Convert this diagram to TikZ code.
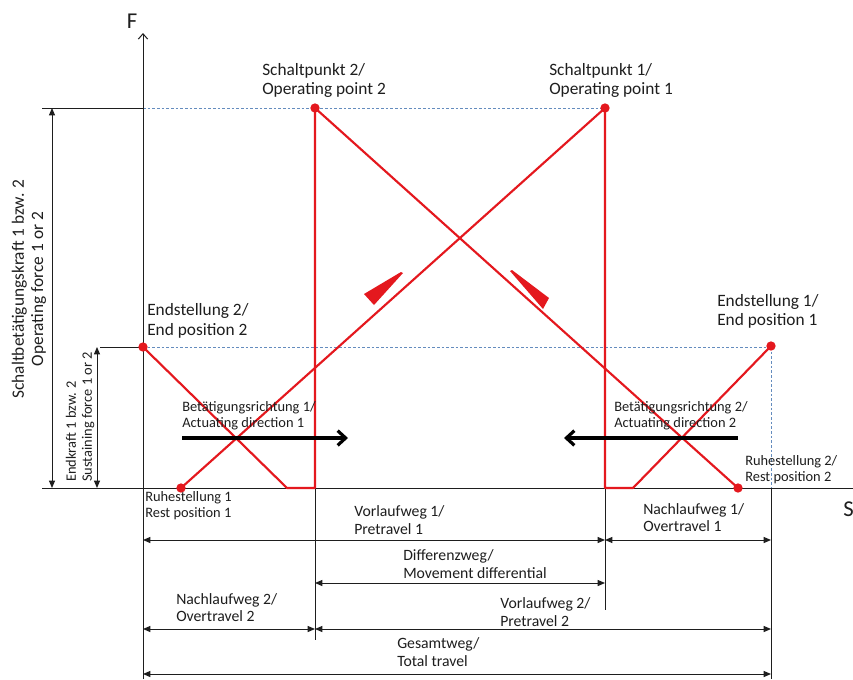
\documentclass[tikz,border=0pt]{standalone}
\usepackage{fontspec}
\setmainfont{Carlito}
\usetikzlibrary{arrows.meta}
\definecolor{rd}{RGB}{228,24,30}
\definecolor{dblue}{RGB}{100,140,190}
\definecolor{txt}{RGB}{30,30,30}
\begin{document}
\begin{tikzpicture}[x=0.75pt,y=-0.75pt,
  bl/.style={txt, line width=0.75pt},
  rl/.style={rd, line width=1.6pt, line join=round},
  dsh/.style={dblue, line width=0.6pt, dash pattern=on 2pt off 1.5pt},
  dim/.style={bl, {Triangle[length=5.5pt,width=4.5pt]}-{Triangle[length=5.5pt,width=4.5pt]}},
  bigarrow/.style={black, line width=2.4pt, -{Straight Barb[length=6pt,width=11pt]}},
  lbl/.style={inner sep=0pt, align=left, text=txt, font=\fontsize{13}{14.5}\selectfont},
  sml/.style={inner sep=0pt, align=left, text=txt, font=\fontsize{10.8}{12}\selectfont},
  mdl/.style={inner sep=0pt, align=left, text=txt, font=\fontsize{11.8}{13.3}\selectfont},
  dot/.style={circle, fill=rd, inner sep=0pt, minimum size=7pt}
]
\useasboundingbox (0,0) rectangle (853,679);
\fill[white] (0,0) rectangle (853,679);

% key points
\coordinate (ytop) at (143,33);
\coordinate (ybot) at (143,679);
\coordinate (xl) at (42,488);
\coordinate (xr) at (853,488);
\coordinate (t1) at (42,108);
\coordinate (t2) at (143,108);
\coordinate (m1) at (100,347);
\coordinate (ep1b) at (771,488);
\coordinate (op2b) at (315,488);
\coordinate (op1b) at (605,488);
\coordinate (k2) at (287,488);
\coordinate (k1) at (633,488);
\coordinate (v2b) at (315,640);
\coordinate (v3b) at (605,610);
\coordinate (v4b) at (771,679);

% dashed extension lines (under red)
\draw[dsh] (t2) -- (605,108);
\draw[dsh] (143,347) -- (771,347);
\draw[dsh] (771,347) -- (ep1b);

% axes
\draw[bl, -{Straight Barb[length=4pt,width=7pt]}] (ybot) -- (ytop);
\draw[bl] (xl) -- (xr);
\node[inner sep=0pt, text=txt, font=\fontsize{17}{17}\selectfont] (F) at (132,21) {F};
\node[inner sep=0pt, anchor=west, text=txt, font=\fontsize{17}{17}\selectfont] (S) at (843,509) {S};

% extension lines
\draw[bl] (t1) -- (t2);
\draw[bl] (m1) -- (143,347);

% vertical force dimensions
\coordinate (da) at (52,108);
\coordinate (db) at (52,488);
\coordinate (dc) at (97,347);
\coordinate (dd) at (97,488);
\draw[dim] (da) -- (db);
\draw[dim] (dc) -- (dd);
\node[lbl, rotate=90, align=center] (opforce) at (29,289) {Schaltbetätigungskraft 1 bzw. 2\\Operating force 1 or 2};
\node[sml, rotate=90, anchor=west] (susforce) at (80,482) {Endkraft 1 bzw. 2\\Sustaining force 1 or 2};

% vertical reference lines below axis
\draw[bl] (op2b) -- (v2b);
\draw[bl] (op1b) -- (v3b);
\draw[bl] (ep1b) -- (v4b);

% red points
\node[dot] (op2) at (315,108) {};
\node[dot] (op1) at (605,108) {};
\node[dot] (ep2) at (143,347) {};
\node[dot] (ep1) at (771,346) {};
\node[dot] (rp1) at (181,488) {};
\node[dot] (rp2) at (738,488) {};

% red characteristic curves
\draw[rl] (rp1.center) -- (op1.center) -- (op1b) -- (k1) -- (ep1.center);
\draw[rl] (rp2.center) -- (op2.center) -- (op2b) -- (k2) -- (ep2.center);

% red wedges
\fill[rd] (364,294) -- (374,305) -- (403,273) -- (401,272) -- cycle;
\fill[rd] (510,271) -- (512,270) -- (549,298) -- (543,309) -- cycle;

% actuating direction arrows
\coordinate (a1s) at (182,438);
\coordinate (a1e) at (348,438);
\coordinate (a2s) at (738,438);
\coordinate (a2e) at (564,438);
\draw[bigarrow] (a1s) -- (a1e);
\draw[bigarrow] (a2s) -- (a2e);

% top labels
\node[lbl, anchor=west] (sp2) at (262,80.5) {Schaltpunkt 2/\\Operating point 2};
\node[lbl, anchor=west] (sp1) at (549,80.5) {Schaltpunkt 1/\\Operating point 1};
\node[lbl, anchor=west] (es2) at (147,321) {Endstellung 2/\\End position 2};
\node[lbl, anchor=west] (es1) at (717,311.5) {Endstellung 1/\\End position 1};

% small labels
\node[sml, anchor=west] (br1) at (182,415.5) {Betätigungsrichtung 1/\\Actuating direction 1};
\node[sml, anchor=west] (br2) at (614,415.5) {Betätigungsrichtung 2/\\Actuating direction 2};
\node[sml, anchor=west] (rs1) at (145,506) {Ruhestellung 1\\Rest position 1};
\node[sml, anchor=west] (rs2) at (745,470) {Ruhestellung 2/\\Rest position 2};

% travel dimensions
\coordinate (r1a) at (143,540);
\coordinate (r1b) at (605,540);
\coordinate (r1c) at (771,540);
\coordinate (r2a) at (315,583);
\coordinate (r2b) at (605,583);
\coordinate (r3a) at (143,629);
\coordinate (r3b) at (315,629);
\coordinate (r3c) at (771,629);
\coordinate (r4a) at (143,674);
\coordinate (r4b) at (771,674);
\draw[dim] (r1a) -- (r1b);
\draw[dim] (r1b) -- (r1c);
\draw[dim] (r2a) -- (r2b);
\draw[dim] (r3a) -- (r3b);
\draw[dim] (r3b) -- (r3c);
\draw[dim] (r4a) -- (r4b);

\node[mdl, anchor=west] (vw1) at (354,520) {Vorlaufweg 1/\\Pretravel 1};
\node[mdl, anchor=west] (nw1) at (643,517.5) {Nachlaufweg 1/\\Overtravel 1};
\node[mdl, anchor=west] (dw) at (403,564) {Differenzweg/\\Movement differential};
\node[mdl, anchor=west] (nw2) at (176,607.5) {Nachlaufweg 2/\\Overtravel 2};
\node[mdl, anchor=west] (vw2) at (500,612) {Vorlaufweg 2/\\Pretravel 2};
\node[mdl, anchor=west] (gw) at (397,652) {Gesamtweg/\\Total travel};
\end{tikzpicture}
\end{document}
